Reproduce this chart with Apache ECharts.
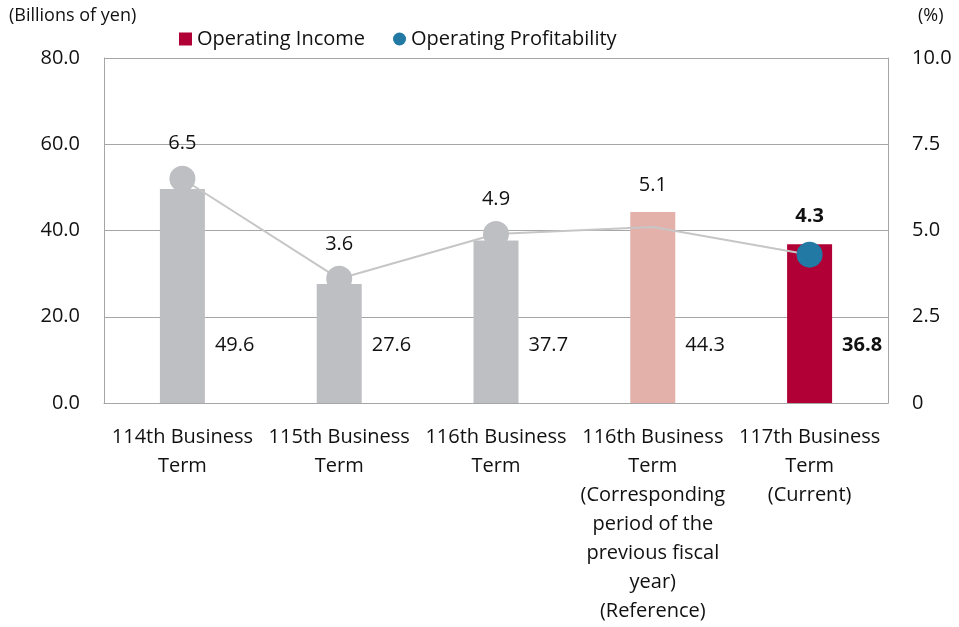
<!DOCTYPE html>
<html>
<head>
<meta charset="utf-8">
<script src="https://cdn.jsdelivr.net/npm/echarts@6/dist/echarts.min.js"></script>
<style>
html,body{margin:0;padding:0;background:#fff;}
#chart{width:959px;height:627px;}
</style>
</head>
<body>
<div id="chart"></div>
<script>
const categories = [
  "114th Business\nTerm",
  "115th Business\nTerm",
  "116th Business\nTerm",
  "116th Business\nTerm\n(Corresponding\nperiod of the\nprevious fiscal\nyear)\n(Reference)",
  "117th Business\nTerm\n(Current)"
];
const operatingIncome = [49.6, 27.6, 37.7, 44.3, 36.8];
const operatingProfitability = [6.5, 3.6, 4.9, 5.1, 4.3];
const leftTicks = [0, 20, 40, 60, 80];
const rightTicks = [0, 2.5, 5, 7.5, 10];

const FONT = '"Open Sans", "Noto Sans", sans-serif';
const TXT = '#111111';
const barColors = ['#BEBFC3', '#BEBFC3', '#BEBFC3', '#E3B0AA', '#B00035'];
const markerColors = ['#BEBFC3', '#BEBFC3', '#BEBFC3', 'rgba(0,0,0,0)', '#2279A4'];

const chart = echarts.init(document.getElementById('chart'), null, {renderer: 'canvas'});

const barData = operatingIncome.map((v, i) => ({
  value: v,
  itemStyle: {color: barColors[i]},
  label: i === 4 ? {fontWeight: 'bold'} : {}
}));
const lineData = operatingProfitability.map((v, i) => ({
  value: v,
  itemStyle: {color: markerColors[i]},
  label: i === 4 ? {fontWeight: 'bold', distance: 15} : (i === 3 ? {distance: 19} : {})
}));

chart.setOption({
  animation: false,
  textStyle: {fontFamily: FONT, color: TXT},
  grid: {left: 104, right: 71, top: 58, bottom: 224, containLabel: false},
  legend: {
    top: 24, left: 174,
    itemWidth: 13, itemHeight: 13, itemGap: 28,
    textStyle: {fontFamily: FONT, fontSize: 20, color: TXT},
    data: [
      {name: 'Operating Income', icon: 'rect'},
      {name: 'Operating Profitability', icon: 'circle'}
    ]
  },
  graphic: [
    {type: 'text', left: 9, top: 7, style: {text: '(Billions of yen)', font: '18px ' + FONT, fill: TXT}},
    {type: 'text', left: 918, top: 7, style: {text: '(%)', font: '18px ' + FONT, fill: TXT}}
  ],
  xAxis: {
    type: 'category',
    data: categories,
    axisLine: {show: true, lineStyle: {color: '#A6A6A6', width: 1}},
    axisTick: {show: false},
    axisLabel: {fontFamily: FONT, fontSize: 20, color: TXT, lineHeight: 29, margin: 20, interval: 0, align: 'center'}
  },
  yAxis: [
    {
      type: 'value', min: leftTicks[0], max: leftTicks[leftTicks.length - 1], interval: 20,
      axisLine: {show: true, lineStyle: {color: '#A6A6A6'}},
      axisTick: {show: false},
      splitLine: {show: true, lineStyle: {color: '#A6A6A6', width: 1}},
      axisLabel: {fontFamily: FONT, fontSize: 20, color: TXT, margin: 24, formatter: v => v.toFixed(1)}
    },
    {
      type: 'value', min: rightTicks[0], max: rightTicks[rightTicks.length - 1], interval: 2.5,
      position: 'right',
      axisLine: {show: true, lineStyle: {color: '#A6A6A6'}},
      axisTick: {show: false},
      splitLine: {show: false},
      axisLabel: {fontFamily: FONT, fontSize: 20, color: TXT, margin: 24, formatter: v => v === 0 ? '0' : v.toFixed(1)}
    }
  ],
  series: [
    {
      name: 'Operating Income',
      type: 'bar',
      yAxisIndex: 0,
      barWidth: 45,
      itemStyle: {color: '#B00035'},
      data: barData,
      label: {
        show: true,
        position: ['100%', '100%'],
        align: 'left', verticalAlign: 'middle',
        offset: [10, -58],
        fontFamily: FONT, fontSize: 20, color: TXT,
        formatter: p => p.value.toFixed(1)
      },
      z: 2
    },
    {
      name: 'Operating Profitability',
      type: 'line',
      yAxisIndex: 1,
      symbol: 'circle',
      symbolSize: 26,
      itemStyle: {color: '#2279A4'},
      lineStyle: {color: '#C6C6C6', width: 2},
      data: lineData,
      label: {
        show: true, position: 'top', distance: 12,
        fontFamily: FONT, fontSize: 20, color: TXT,
        formatter: p => p.value.toFixed(1)
      },
      z: 3
    }
  ]
});
</script>
</body>
</html>
